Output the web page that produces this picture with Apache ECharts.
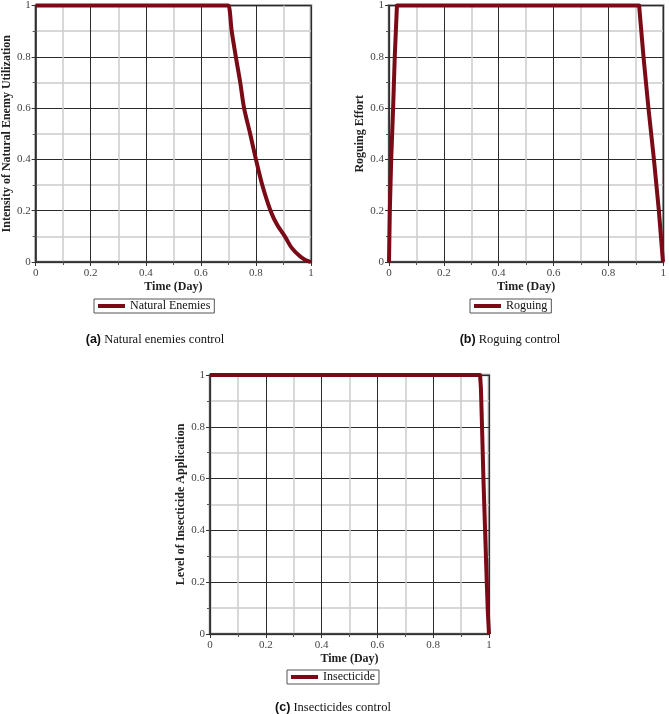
<!DOCTYPE html>
<html>
<head>
<meta charset="utf-8">
<script src="https://cdn.jsdelivr.net/npm/echarts@6/dist/echarts.min.js"></script>
<style>
  html, body { margin: 0; padding: 0; background: #fff; }
  #chart { width: 669px; height: 714px; }
</style>
</head>
<body>
<div id="chart"></div>
<script>
// (a) natural enemies
const natTime = [0, 0.69, 0.7, 0.712, 0.727, 0.743, 0.757, 0.779, 0.8, 0.823, 0.853, 0.877, 0.905, 0.93, 0.96, 0.98, 1];
const natValue = [1, 1, 1, 0.9, 0.8, 0.7, 0.6, 0.5, 0.4, 0.3, 0.2, 0.145, 0.1, 0.055, 0.022, 0.008, 0];
// (b) roguing
const rogTime = [0, 0.003, 0.008, 0.015, 0.021, 0.029, 0.912, 0.928, 0.946, 0.966, 0.984, 0.999];
const rogValue = [0, 0.2, 0.4, 0.6, 0.8, 1, 1, 0.8, 0.6, 0.4, 0.2, 0];
// (c) insecticide
const insTime = [0, 0.968, 0.971, 0.975, 0.98, 0.986, 0.992, 0.996, 1];
const insValue = [1, 1, 0.95, 0.8, 0.6, 0.4, 0.2, 0.08, 0];

const seriesNames = ['Natural Enemies', 'Roguing', 'Insecticide'];
const yNames = ['Intensity of Natural Enemy Utilization', 'Roguing Effort', 'Level of Insecticide Application'];
const captions = [['(a)', 'Natural enemies control'], ['(b)', 'Roguing control'], ['(c)', 'Insecticides control']];

const lineColor = '#7a0a16';
const serif = "'Liberation Serif', 'DejaVu Serif', serif";

const grids = [
  { left: 32, top: 4, width: 279, height: 258 },
  { left: 389, top: 4, width: 277, height: 258 },
  { left: 210, top: 375, width: 279, height: 259 }
];

// only the curved drop in (a) is smoothed
const smoothing = [0.3, false, false];

function pairs(xs, ys) {
  return xs.map((x, i) => [x, ys[i]]);
}

function axisBase(i) {
  return {
    gridIndex: i,
    type: 'value',
    min: 0,
    max: 1,
    interval: 0.2,
    axisLine: { show: true, lineStyle: { color: '#333', width: 1.5 } },
    axisTick: { show: true, inside: false, length: 4, lineStyle: { color: '#333' } },
    minorTick: { show: true, splitNumber: 2, length: 3, lineStyle: { color: '#555' } },
    splitLine: { show: true, lineStyle: { color: '#2b2b2b', width: 1 } },
    minorSplitLine: { show: true, lineStyle: { color: '#cccccc', width: 1.5 } },
    nameLocation: 'middle',
    nameTextStyle: { fontFamily: serif, fontSize: 12, fontWeight: 'bold', color: '#222' }
  };
}

const chart = echarts.init(document.getElementById('chart'), null, { renderer: 'canvas' });

const option = {
  backgroundColor: '#fff',
  animation: false,
  grid: grids.map(g => Object.assign({ show: true, borderColor: '#8a8a8a', borderWidth: 2.5, backgroundColor: '#fff' }, g)),
  xAxis: [0, 1, 2].map(i => Object.assign(axisBase(i), {
    name: 'Time (Day)',
    nameGap: 19,
    axisLabel: { fontFamily: serif, fontSize: 11, color: '#444', margin: 6 }
  })),
  yAxis: [0, 1, 2].map(i => Object.assign(axisBase(i), {
    name: yNames[i],
    nameGap: 21,
    axisLabel: { fontFamily: serif, fontSize: 11, color: '#444', margin: 5 }
  })),
  legend: [
    { left: 94, top: 299, data: [seriesNames[0]] },
    { left: 470, top: 299, data: [seriesNames[1]] },
    { left: 287, top: 670, data: [seriesNames[2]] }
  ].map(l => Object.assign({
    orient: 'horizontal',
    icon: 'rect',
    itemWidth: 27,
    itemHeight: 4,
    itemGap: 5,
    padding: [1, 4, 1, 4],
    borderColor: '#555',
    borderWidth: 1,
    borderRadius: 0,
    textStyle: { fontFamily: serif, fontSize: 12, color: '#111' }
  }, l)),
  title: [
    { left: 155, top: 333 },
    { left: 510, top: 333 },
    { left: 333, top: 701 }
  ].map((t, i) => Object.assign({
    text: '{b|' + captions[i][0] + '}{r| ' + captions[i][1] + '}',
    textAlign: 'center',
    padding: 0,
    textStyle: {
      fontWeight: 'normal',
      rich: {
        b: { fontFamily: "'Liberation Sans', Arial, sans-serif", fontWeight: 'bold', fontSize: 12.5, color: '#111' },
        r: { fontFamily: serif, fontWeight: 'normal', fontSize: 12.5, color: '#111' }
      }
    }
  }, t)),
  series: [
    pairs(natTime, natValue),
    pairs(rogTime, rogValue),
    pairs(insTime, insValue)
  ].map((d, i) => ({
    name: seriesNames[i],
    type: 'line',
    xAxisIndex: i,
    yAxisIndex: i,
    data: d,
    smooth: smoothing[i],
    showSymbol: false,
    symbol: 'none',
    clip: false,
    color: lineColor,
    lineStyle: { color: lineColor, width: 4, join: 'round' },
    z: 5
  }))
};

chart.setOption(option);
</script>
</body>
</html>
